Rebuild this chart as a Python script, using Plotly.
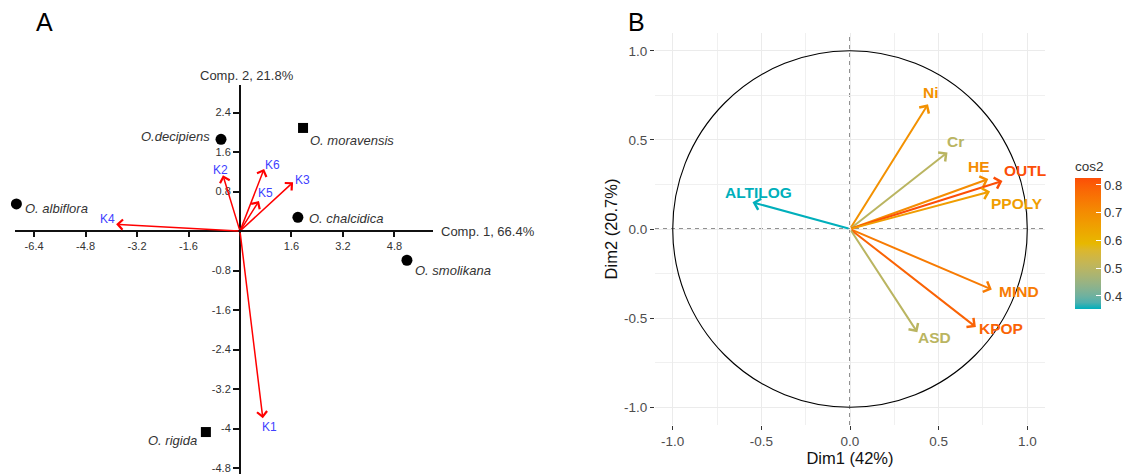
import plotly.graph_objects as go
import numpy as np

W, H = 1131, 474

# ---------------- Panel A data ----------------
sp_names = ["O. albiflora", "O.decipiens", "O. moravensis", "O. chalcidica", "O. smolikana", "O. rigida"]
sp_x = [-6.95, -0.59, 1.96, 1.80, 5.19, -1.06]
sp_y = [0.55, 1.86, 2.09, 0.28, -0.59, -4.07]
sp_symbol = ["circle", "circle", "square", "circle", "circle", "square"]

load_names = ["K1", "K2", "K3", "K4", "K5", "K6"]
load_x = [0.71, -0.53, 1.65, -3.85, 0.59, 0.75]
load_y = [-3.79, 1.13, 0.99, 0.14, 0.61, 1.26]

a_xtickvals = [-6.4, -4.8, -3.2, -1.6, 1.6, 3.2, 4.8]
a_xticktext = ["-6.4", "-4.8", "-3.2", "-1.6", "1.6", "3.2", "4.8"]
a_ytickvals = [2.4, 1.6, 0.8, -0.8, -1.6, -2.4, -3.2, -4.0, -4.8]
a_yticktext = ["2.4", "1.6", "0.8", "-0.8", "-1.6", "-2.4", "-3.2", "-4", "-4.8"]
a_xtitle = "Comp. 1, 66.4%"
a_ytitle = "Comp. 2, 21.8%"

# ---------------- Panel B data ----------------
var_names = ["Ni", "Cr", "HE", "OUTL", "PPOLY", "MIND", "KPOP", "ASD", "ALTILOG"]
var_x = [0.44, 0.55, 0.78, 0.86, 0.79, 0.80, 0.71, 0.38, -0.55]
var_y = [0.70, 0.43, 0.28, 0.27, 0.21, -0.34, -0.55, -0.58, 0.15]
var_cos2 = [0.69, 0.50, 0.70, 0.825, 0.66, 0.74, 0.79, 0.50, 0.353]

b_tickvals = [-1.0, -0.5, 0.0, 0.5, 1.0]
b_ticktext = ["-1.0", "-0.5", "0.0", "0.5", "1.0"]
cbar_tickvals = [0.4, 0.5, 0.6, 0.7, 0.8]
b_xtitle = "Dim1 (42%)"
b_ytitle = "Dim2 (20.7%)"

# ---------------- layout / style (pixels) ----------------
A_RANGE_X = [-7.0, 6.0]
A_RANGE_Y = [-4.92, 2.96]
A_PIX_X = [14.8, 433]
A_PIX_Y = [85, 474]   # top, bottom
B_RANGE = [-1.1, 1.1]
B_PIX_X = [655, 1045]
B_PIX_Y = [33, 425]

# label offsets (x shift, y shift down in px, anchor)
sp_label_style = [(7, 5, "left"), (-9, -3, "right"), (5, 13, "left"),
                  (9, 1, "left"), (6, 10, "left"), (-7, 8, "right")]
load_label_off = [(7, 9), (-2, -5), (9, -2), (-9, -5), (7, -8), (8, -4)]
var_label_off = [(3, -12), (8, -11), (-9, -13), (23, -10), (27, 12),
                 (27, 2), (25, 1), (17, 5), (6, -10)]

FONT = "Liberation Sans, Arial, sans-serif"


def px2fx(p):
    return p / W


def px2fy(p):
    return 1 - p / H


# ---------------- colour gradient in Lab space ----------------
def _srgb_to_lin(c):
    c = c / 255.0
    return np.where(c <= 0.04045, c / 12.92, ((c + 0.055) / 1.055) ** 2.4)


def _lin_to_srgb(c):
    c = np.clip(c, 0, 1)
    v = np.where(c <= 0.0031308, 12.92 * c, 1.055 * c ** (1 / 2.4) - 0.055)
    return np.clip(np.round(v * 255), 0, 255).astype(int)


M = np.array([[0.4124, 0.3576, 0.1805], [0.2126, 0.7152, 0.0722], [0.0193, 0.1192, 0.9505]])
Minv = np.linalg.inv(M)
WHITE = np.array([0.95047, 1.0, 1.08883])


def hex_to_lab(h):
    rgb = np.array([int(h[i:i + 2], 16) for i in (1, 3, 5)], dtype=float)
    xyz = M @ _srgb_to_lin(rgb) / WHITE
    f = np.where(xyz > (6 / 29) ** 3, np.cbrt(xyz), xyz / (3 * (6 / 29) ** 2) + 4 / 29)
    return np.array([116 * f[1] - 16, 500 * (f[0] - f[1]), 200 * (f[1] - f[2])])


def lab_to_hex(lab):
    L, a, b = lab
    fy = (L + 16) / 116
    fx = fy + a / 500
    fz = fy - b / 200
    f = np.array([fx, fy, fz])
    xyz = np.where(f > 6 / 29, f ** 3, 3 * (6 / 29) ** 2 * (f - 4 / 29)) * WHITE
    rgb = _lin_to_srgb(Minv @ xyz)
    return "#%02x%02x%02x" % tuple(rgb)


GRAD = [hex_to_lab(c) for c in ["#00AFBB", "#E7B800", "#FC4E07"]]


def grad_color(t):
    t = min(max(t, 0), 1)
    if t <= 0.5:
        u = t / 0.5
        return lab_to_hex(GRAD[0] * (1 - u) + GRAD[1] * u)
    u = (t - 0.5) / 0.5
    return lab_to_hex(GRAD[1] * (1 - u) + GRAD[2] * u)


cmin, cmax = min(var_cos2), max(var_cos2)
colorscale = [[s, grad_color(s)] for s in np.linspace(0, 1, 21)]
var_colors = [grad_color((c - cmin) / (cmax - cmin)) for c in var_cos2]

# ---------------- figure ----------------
fig = go.Figure()

# Panel A: species points
for sym in ["circle", "square"]:
    idx = [i for i, s in enumerate(sp_symbol) if s == sym]
    fig.add_trace(go.Scatter(
        x=[sp_x[i] for i in idx], y=[sp_y[i] for i in idx],
        mode="markers", xaxis="x", yaxis="y", cliponaxis=False,
        marker=dict(symbol=sym, size=11 if sym == "circle" else 10, color="black"),
        showlegend=False, hoverinfo="text", text=[sp_names[i] for i in idx]))

annotations = []
for i, n in enumerate(sp_names):
    dx, dy, anc = sp_label_style[i]
    annotations.append(dict(x=sp_x[i], y=sp_y[i], xref="x", yref="y", text="<i>%s</i>" % n,
                            showarrow=False, xanchor=anc, yanchor="middle", xshift=dx, yshift=-dy,
                            font=dict(family=FONT, size=13, color="#333333")))

for i, n in enumerate(load_names):
    annotations.append(dict(x=load_x[i], y=load_y[i], xref="x", yref="y", ax=0, ay=0,
                            axref="x", ayref="y", text="", showarrow=True, arrowhead=4,
                            arrowsize=1.3, arrowwidth=1.5, arrowcolor="#FF0000",
                            standoff=0, startstandoff=0))
    dx, dy = load_label_off[i]
    annotations.append(dict(x=load_x[i], y=load_y[i], xref="x", yref="y", text=n,
                            showarrow=False, xanchor="center", yanchor="middle",
                            xshift=dx, yshift=-dy,
                            font=dict(family=FONT, size=12, color="#4040FF")))

# axis titles panel A
annotations.append(dict(x=A_RANGE_X[1], y=0, xref="x", yref="y", text=a_xtitle, showarrow=False,
                        xanchor="left", yanchor="middle", xshift=6,
                        font=dict(family=FONT, size=13, color="#333333")))
annotations.append(dict(x=0, y=A_RANGE_Y[1], xref="x", yref="y", text=a_ytitle, showarrow=False,
                        xanchor="center", yanchor="bottom", xshift=7, yshift=0,
                        font=dict(family=FONT, size=13, color="#333333")))

# Panel B arrows and labels
for i, n in enumerate(var_names):
    annotations.append(dict(x=var_x[i], y=var_y[i], xref="x2", yref="y2", ax=0, ay=0,
                            axref="x2", ayref="y2", text="", showarrow=True, arrowhead=4,
                            arrowsize=1.1, arrowwidth=2, arrowcolor=var_colors[i],
                            standoff=0, startstandoff=0))
    dx, dy = var_label_off[i]
    annotations.append(dict(x=var_x[i], y=var_y[i], xref="x2", yref="y2", text="<b>%s</b>" % n,
                            showarrow=False, xanchor="center", yanchor="middle",
                            xshift=dx, yshift=-dy,
                            font=dict(family=FONT, size=15.5, color=var_colors[i])))

# colorbar carrier
fig.add_trace(go.Scatter(
    x=var_x, y=var_y, xaxis="x2", yaxis="y2", mode="markers", showlegend=False,
    hoverinfo="skip",
    marker=dict(size=1, opacity=0, color=var_cos2, colorscale=colorscale, cmin=cmin, cmax=cmax,
                showscale=True,
                colorbar=dict(
                    x=px2fx(1075), xanchor="left", y=px2fy(158), yanchor="top",
                    lenmode="pixels", len=151, thickness=26, thicknessmode="pixels",
                    outlinewidth=0, xpad=0, ypad=0,
                    tickvals=cbar_tickvals, ticks="inside", ticklen=5, tickcolor="white",
                    tickfont=dict(family=FONT, size=13, color="#333333"),
                    title=dict(text="cos2", side="top",
                               font=dict(family=FONT, size=13.5, color="#333333"))))))

# panel labels
annotations.append(dict(x=px2fx(44), y=px2fy(22), xref="paper", yref="paper", text="A",
                        xanchor="center", yanchor="middle",
                        showarrow=False, font=dict(family=FONT, size=25, color="black")))
annotations.append(dict(x=px2fx(636), y=px2fy(22), xref="paper", yref="paper", text="B",
                        xanchor="center", yanchor="middle",
                        showarrow=False, font=dict(family=FONT, size=25, color="black")))

# axis positions for panel A (crossing at zero)
a_xdom = [px2fx(A_PIX_X[0]), px2fx(A_PIX_X[1])]
a_ydom = [px2fy(A_PIX_Y[1]), px2fy(A_PIX_Y[0])]
a_xpos = a_xdom[0] + (0 - A_RANGE_X[0]) / (A_RANGE_X[1] - A_RANGE_X[0]) * (a_xdom[1] - a_xdom[0])
a_ypos = a_ydom[0] + (0 - A_RANGE_Y[0]) / (A_RANGE_Y[1] - A_RANGE_Y[0]) * (a_ydom[1] - a_ydom[0])

shapes = [
    dict(type="circle", xref="x2", yref="y2", x0=-1, y0=-1, x1=1, y1=1,
         line=dict(color="black", width=1.1), layer="above"),
    dict(type="line", xref="x2", yref="y2 domain", x0=0, x1=0, y0=0, y1=1,
         line=dict(color="#222222", width=1, dash="4px,4px"), layer="below"),
    dict(type="line", xref="x2 domain", yref="y2", x0=0, x1=1, y0=0, y1=0,
         line=dict(color="#222222", width=1, dash="4px,4px"), layer="below"),
]

fig.update_layout(
    width=W, height=H, margin=dict(l=0, r=0, t=0, b=0, autoexpand=False),
    paper_bgcolor="white", plot_bgcolor="white",
    font=dict(family=FONT),
    annotations=annotations, shapes=shapes,
    xaxis=dict(domain=a_xdom, range=A_RANGE_X, anchor="free", position=a_ypos, automargin=False,
               showgrid=False, zeroline=False, showline=True, linecolor="#111111", linewidth=2,
               ticks="outside", ticklen=5, tickwidth=1.5, tickcolor="#111111",
               tickvals=a_xtickvals, ticktext=a_xticktext,
               tickfont=dict(family=FONT, size=11, color="#333333")),
    yaxis=dict(domain=a_ydom, range=A_RANGE_Y, anchor="free", position=a_xpos, automargin=False,
               showgrid=False, zeroline=False, showline=True, linecolor="#111111", linewidth=2,
               ticks="outside", ticklen=6, tickwidth=1.5, tickcolor="#111111",
               tickvals=a_ytickvals, ticktext=a_yticktext,
               tickfont=dict(family=FONT, size=11, color="#333333")),
    xaxis2=dict(domain=[px2fx(B_PIX_X[0]), px2fx(B_PIX_X[1])], range=B_RANGE, anchor="y2",
                automargin=False,
                showgrid=True, gridcolor="#EBEBEB", gridwidth=1, zeroline=False, showline=False,
                minor=dict(dtick=0.25, tick0=0, showgrid=True, gridcolor="#F0F0F0", gridwidth=1),
                ticks="outside", ticklen=4, tickcolor="#333333", tickwidth=1,
                tickvals=b_tickvals, ticktext=b_ticktext,
                tickfont=dict(family=FONT, size=13.5, color="#4D4D4D"),
                title=dict(text=b_xtitle, standoff=4, font=dict(family=FONT, size=16.5, color="#111111"))),
    yaxis2=dict(domain=[px2fy(B_PIX_Y[1]), px2fy(B_PIX_Y[0])], range=B_RANGE, anchor="x2",
                automargin=False,
                showgrid=True, gridcolor="#EBEBEB", gridwidth=1, zeroline=False, showline=False,
                minor=dict(dtick=0.25, tick0=0, showgrid=True, gridcolor="#F0F0F0", gridwidth=1),
                ticks="outside", ticklen=4, tickcolor="#333333", tickwidth=1,
                tickvals=b_tickvals, ticktext=b_ticktext,
                tickfont=dict(family=FONT, size=13.5, color="#4D4D4D"),
                title=dict(text=b_ytitle, standoff=2, font=dict(family=FONT, size=16.5, color="#111111"))),
)

fig.write_html("out.html", config={"displayModeBar": False},
               post_script="document.body.style.margin='0';document.body.style.padding='0';"
                           "document.body.style.overflow='hidden';")
